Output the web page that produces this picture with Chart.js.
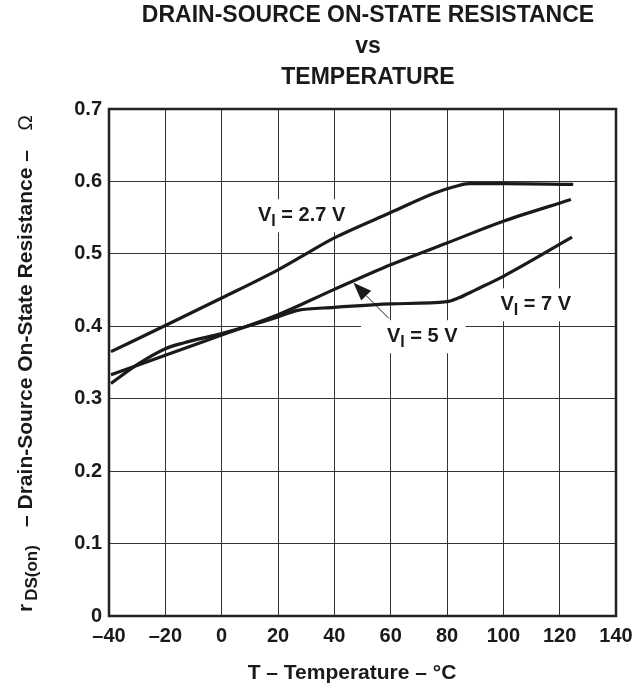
<!DOCTYPE html>
<html>
<head>
<meta charset="utf-8">
<script src="https://cdn.jsdelivr.net/npm/chart.js@4"></script>
<style>
  html, body { margin: 0; padding: 0; background: #fff; }
  #wrap { width: 644px; height: 683px; }
</style>
</head>
<body>
<div id="wrap"><canvas id="c" width="644" height="683"></canvas></div>
<script>
// temperature (°C) and rDS(on) (Ω)
const tempV27 = [-39.3, -20, 0, 20, 29.5, 40, 60, 75.7, 82.8, 87.6, 100, 124.8];
const rdsV27  = [0.365, 0.401, 0.439, 0.478, 0.499, 0.522, 0.557, 0.584, 0.593, 0.597, 0.597, 0.596];

const tempV5 = [-39.3, -20, 0, 20, 40, 60, 80, 100, 124];
const rdsV5  = [0.333, 0.360, 0.388, 0.416, 0.451, 0.485, 0.515, 0.545, 0.575];

const tempV7 = [-39.3, -30, -20, -13.6, 0, 10, 20, 27, 40, 60, 80, 84, 90, 100, 124.4];
const rdsV7  = [0.321, 0.347, 0.369, 0.377, 0.390, 0.401, 0.413, 0.422, 0.426, 0.431, 0.434, 0.439, 0.450, 0.469, 0.523];

const xTicks = [-40, -20, 0, 20, 40, 60, 80, 100, 120, 140];
const yTicks = [0, 0.1, 0.2, 0.3, 0.4, 0.5, 0.6, 0.7];

const titleLines = ['DRAIN-SOURCE ON-STATE RESISTANCE', 'vs', 'TEMPERATURE'];

// curve labels: main, subscript, rest, left x and baseline y in data units
const curveLabels = [
  ['V', 'I', ' = 2.7 V', 12.9, 0.545],
  ['V', 'I', ' = 5 V', 58.7, 0.378],
  ['V', 'I', ' = 7 V', 99.0, 0.422]
];
const labelPadLeft = [8, 26, 6];
// arrow from the 5 V label to its curve, data units
const arrowFrom = [59.3, 0.411];
const arrowTo = [46.8, 0.460];

const FONT = '"Liberation Sans", Arial, Helvetica, sans-serif';
const LBL = 20, LBL_SUB = 16;

function toPts(xs, ys) {
  return xs.map((x, i) => ({ x, y: ys[i] }));
}

function labelWidth(ctx, l) {
  ctx.font = 'bold ' + LBL + 'px ' + FONT;
  const w1 = ctx.measureText(l[0]).width;
  const w3 = ctx.measureText(l[2]).width;
  ctx.font = 'bold ' + LBL_SUB + 'px ' + FONT;
  const w2 = ctx.measureText(l[1]).width;
  return [w1, w2, w3];
}

const textPlugin = {
  id: 'textPlugin',
  beforeDatasetsDraw(chart) {
    // white boxes behind the curve labels break the grid lines
    const { ctx, scales } = chart;
    ctx.save();
    curveLabels.forEach((l, i) => {
      const w = labelWidth(ctx, l).reduce((a, b) => a + b, 0);
      const x = scales.x.getPixelForValue(l[3]);
      const y = scales.y.getPixelForValue(l[4]);
      ctx.fillStyle = '#fff';
      ctx.fillRect(x - labelPadLeft[i], y - 22, w + labelPadLeft[i] + 8, 33);
    });
    ctx.restore();
  },
  afterDatasetsDraw(chart) {
    const { ctx, scales } = chart;
    ctx.save();
    ctx.fillStyle = '#1a1a1a';
    ctx.strokeStyle = '#1a1a1a';
    ctx.textAlign = 'left';
    ctx.textBaseline = 'alphabetic';

    curveLabels.forEach(l => {
      const [w1, w2] = labelWidth(ctx, l);
      const x = scales.x.getPixelForValue(l[3]);
      const y = scales.y.getPixelForValue(l[4]);
      ctx.font = 'bold ' + LBL + 'px ' + FONT;
      ctx.fillText(l[0], x, y);
      ctx.fillText(l[2], x + w1 + w2, y);
      ctx.font = 'bold ' + LBL_SUB + 'px ' + FONT;
      ctx.fillText(l[1], x + w1, y + 5);
    });

    // arrow
    const ax = scales.x.getPixelForValue(arrowFrom[0]);
    const ay = scales.y.getPixelForValue(arrowFrom[1]);
    const bx = scales.x.getPixelForValue(arrowTo[0]);
    const by = scales.y.getPixelForValue(arrowTo[1]);
    const ang = Math.atan2(by - ay, bx - ax);
    const hl = 18, hw = 7;
    const c = Math.cos(ang), s = Math.sin(ang);
    ctx.lineWidth = 1;
    ctx.beginPath();
    ctx.moveTo(ax, ay);
    ctx.lineTo(bx - hl * c, by - hl * s);
    ctx.stroke();
    ctx.beginPath();
    ctx.moveTo(bx, by);
    ctx.lineTo(bx - hl * c + hw * s, by - hl * s - hw * c);
    ctx.lineTo(bx - hl * c - hw * s, by - hl * s + hw * c);
    ctx.closePath();
    ctx.fill();

    // title
    ctx.textAlign = 'center';
    ctx.textBaseline = 'middle';
    ctx.font = 'bold 23px ' + FONT;
    titleLines.forEach((t, i) => ctx.fillText(t, 368, 16 + i * 30.7));

    // x axis title
    ctx.font = 'bold 21px ' + FONT;
    ctx.fillText('T \u2013 Temperature \u2013 \u00B0C', 352, 673);

    // y axis title, rotated, with subscript
    ctx.save();
    ctx.translate(31.5, 612);
    ctx.rotate(-Math.PI / 2);
    ctx.textAlign = 'left';
    ctx.textBaseline = 'alphabetic';
    ctx.font = 'bold 21px ' + FONT;
    ctx.fillText('r', 0, 0);
    let x = ctx.measureText('r').width + 3;
    ctx.font = 'bold 17px ' + FONT;
    ctx.fillText('DS(on)', x, 5);
    ctx.font = 'bold 21px ' + FONT;
    ctx.textAlign = 'center';
    ctx.fillText('\u2013 Drain-Source On-State Resistance \u2013', 612 - 338.5, 0);
    ctx.font = '21px ' + FONT;
    ctx.textAlign = 'right';
    ctx.fillText('\u03A9', 612 - 115, 0);
    ctx.restore();

    ctx.restore();
  }
};

const lineStyle = {
  borderColor: '#1a1a1a',
  borderWidth: 3.2,
  pointRadius: 0,
  fill: false,
  cubicInterpolationMode: 'monotone'
};

new Chart(document.getElementById('c'), {
  type: 'line',
  data: {
    datasets: [
      Object.assign({ label: 'VI = 2.7 V', data: toPts(tempV27, rdsV27) }, lineStyle),
      Object.assign({ label: 'VI = 5 V', data: toPts(tempV5, rdsV5) }, lineStyle),
      Object.assign({ label: 'VI = 7 V', data: toPts(tempV7, rdsV7) }, lineStyle)
    ]
  },
  options: {
    responsive: false,
    animation: false,
    layout: { padding: { top: 109, right: 28, left: 0, bottom: 0 } },
    plugins: {
      legend: { display: false },
      tooltip: { enabled: false }
    },
    scales: {
      x: {
        type: 'linear',
        min: -40,
        max: 140,
        afterBuildTicks: s => { s.ticks = xTicks.map(v => ({ value: v })); },
        afterFit: s => { s.height = 683 - 616; },
        ticks: {
          color: '#1a1a1a',
          padding: 8,
          maxRotation: 0,
          font: { family: FONT, size: 20, weight: 'bold' },
          callback: v => (v < 0 ? '\u2013' + Math.abs(v) : String(v))
        },
        grid: { color: '#333', lineWidth: 1, drawTicks: false },
        border: { color: '#222', width: 2 }
      },
      y: {
        type: 'linear',
        min: 0,
        max: 0.7,
        afterBuildTicks: s => { s.ticks = yTicks.map(v => ({ value: v })); },
        afterFit: s => { s.width = 109; },
        ticks: {
          color: '#1a1a1a',
          padding: 7,
          font: { family: FONT, size: 20, weight: 'bold' },
          callback: v => (v === 0 ? '0' : v.toFixed(1))
        },
        grid: { color: '#333', lineWidth: 1, drawTicks: false },
        border: { color: '#222', width: 2 }
      }
    }
  },
  plugins: [textPlugin, {
    id: 'frame',
    afterDraw(chart) {
      const { ctx, chartArea: a } = chart;
      ctx.save();
      ctx.strokeStyle = '#222';
      ctx.lineWidth = 2.5;
      ctx.strokeRect(a.left, a.top, a.right - a.left, a.bottom - a.top);
      ctx.restore();
    }
  }]
});
</script>
</body>
</html>
